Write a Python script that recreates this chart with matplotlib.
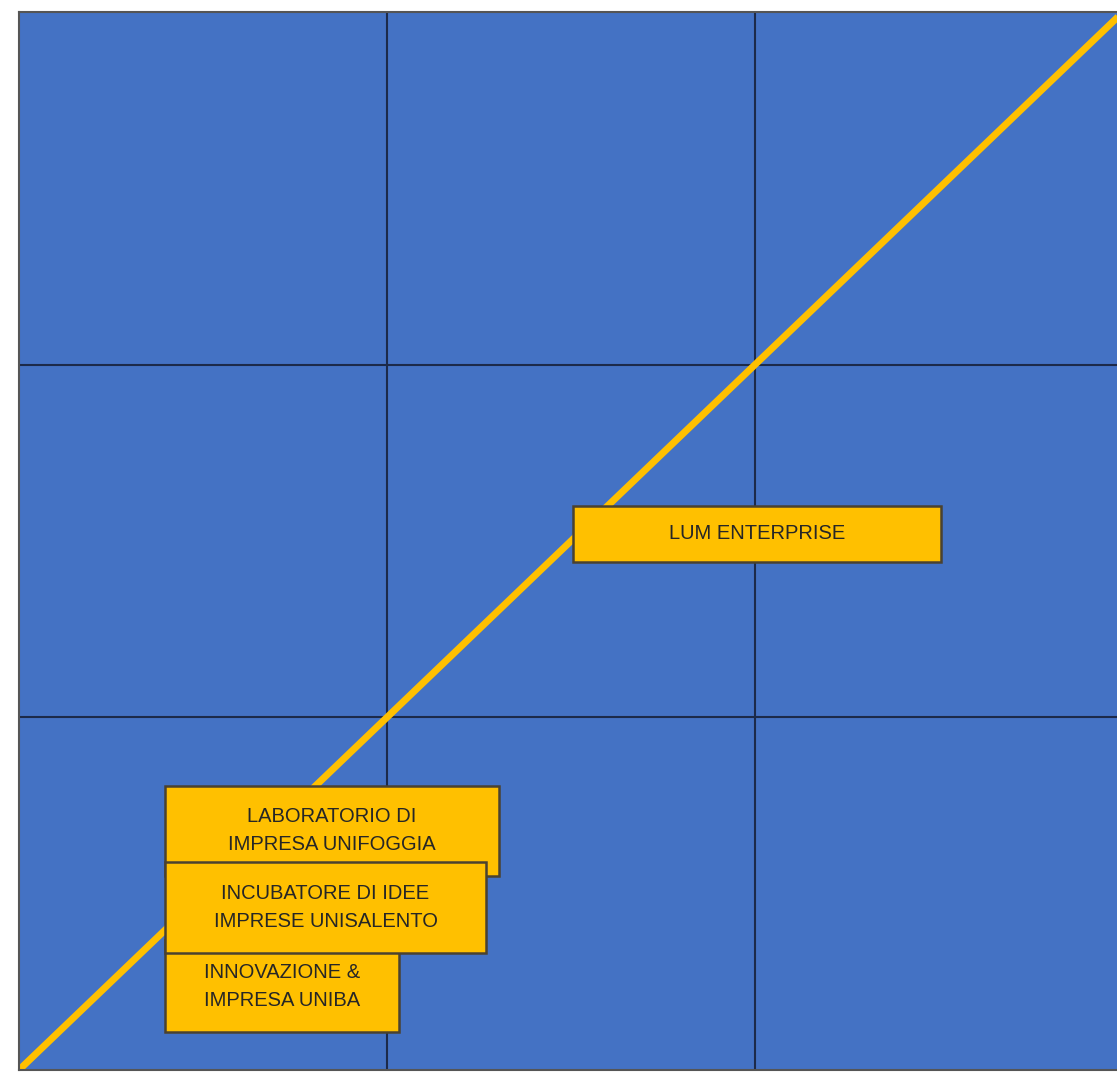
import matplotlib.pyplot as plt
from matplotlib.patches import Rectangle

# matrix cells (3 x 3) and the diagonal
n_cells = 3
diag_x = [0, 3]
diag_y = [0, 3]

# incubators placed on the matrix (box centres, in cell units)
labels = [
    "LABORATORIO DI\nIMPRESA UNIFOGGIA",
    "INNOVAZIONE &\nIMPRESA UNIBA",
    "INCUBATORE DI IDEE\nIMPRESE UNISALENTO",
    "LUM ENTERPRISE",
]
x_pos = [0.851, 0.715, 0.833, 2.006]
y_pos = [0.678, 0.238, 0.461, 1.520]

# box sizes (style)
box_w = [0.907, 0.634, 0.871, 1.0]
box_h = [0.255, 0.262, 0.258, 0.16]

BLUE = "#4472C4"
YELLOW = "#FFC000"
NAVY = "#1c2a4a"

W, H = 1117, 1073
fig = plt.figure(figsize=(W / 100, H / 100), dpi=100, facecolor="white")
left, right = 19, 1123
top, bottom = 12, 1070
ax = fig.add_axes([left / W, 1 - bottom / H, (right - left) / W, (bottom - top) / H])
ax.set_facecolor(BLUE)
ax.set_xlim(0, n_cells)
ax.set_ylim(0, n_cells)

for k in range(1, n_cells):
    ax.axvline(k, color=NAVY, lw=1.5, zorder=1)
    ax.axhline(k, color=NAVY, lw=1.5, zorder=1)

ax.plot(diag_x, diag_y, color=YELLOW, lw=5, solid_capstyle="butt", zorder=2)

for i, lab in enumerate(labels):
    x0 = x_pos[i] - box_w[i] / 2
    y0 = y_pos[i] - box_h[i] / 2
    ax.add_patch(Rectangle((x0, y0), box_w[i], box_h[i], facecolor=YELLOW,
                           edgecolor="#4a4230", lw=1.8, zorder=3 + 2 * i))
    ax.text(x_pos[i], y_pos[i], lab, ha="center", va="center",
            fontsize=14.5, family="Liberation Sans", color="#262626",
            linespacing=1.6, zorder=4 + 2 * i)

ax.set_xticks([])
ax.set_yticks([])
for s in ax.spines.values():
    s.set_color("#555555")
    s.set_linewidth(1.5)

fig.savefig("out.png", dpi=100, facecolor="white")
